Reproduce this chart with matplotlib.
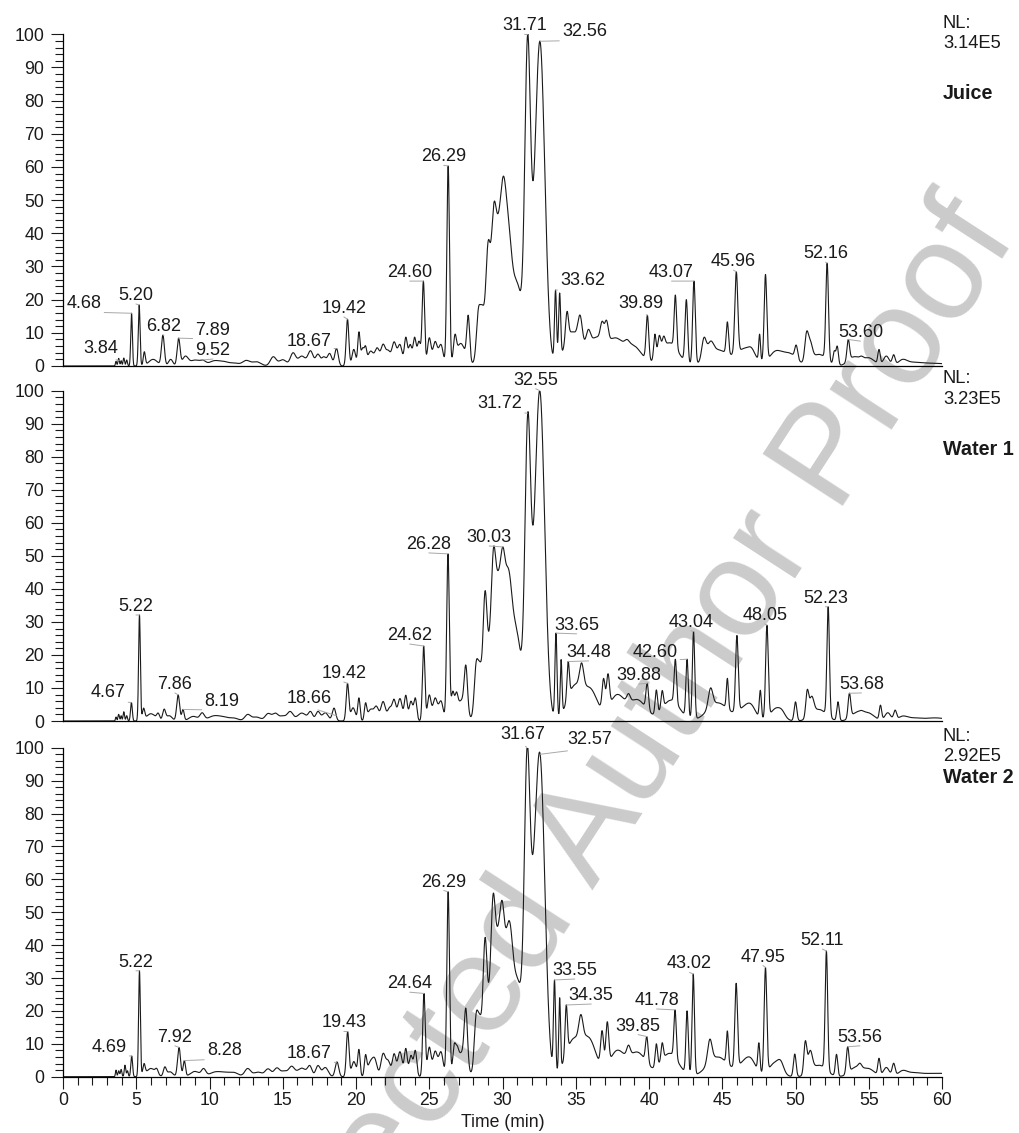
import numpy as np
import matplotlib
matplotlib.use('Agg')
import matplotlib.pyplot as plt
from matplotlib.ticker import MultipleLocator

plt.rcParams['font.family'] = ['Liberation Sans', 'DejaVu Sans']

# peak tables:
# retention time (min), relative abundance at that time, peak width (sigma, min)
juice_rt = [3.62, 3.80, 3.97, 4.15, 4.35, 4.68, 5.20, 5.55, 6.15, 6.82,
            7.35, 7.89, 8.35, 9.0, 9.55, 10.3, 11.0, 11.75, 12.5, 13.2,
            14.35, 15.0, 15.7, 16.3, 16.9, 17.4, 17.8, 18.2, 18.67, 19.42,
            19.85, 20.2, 20.45, 20.65, 21.0, 21.45, 21.85, 22.2, 22.6, 23.0,
            23.4, 23.7, 24.0, 24.3, 24.60, 25.0, 25.4, 25.8, 26.29, 26.75,
            27.15, 27.66, 28.35, 28.6, 29.0, 29.4, 29.55, 29.7, 30.05, 30.4,
            31.05, 31.71, 31.96, 32.56, 33.62, 33.9, 34.4, 34.75, 35.3, 35.85,
            36.4, 36.8, 37.1, 37.7, 38.5, 38.9, 39.89, 40.4, 40.7, 41.0,
            41.4, 41.8, 42.55, 43.07, 43.75, 44.2, 44.7, 45.35, 45.96, 46.6,
            47.0, 47.55, 47.95, 48.6, 49.0, 49.55, 50.05, 50.75, 51.0, 51.6,
            52.16, 52.65, 52.85, 53.60, 54.0, 54.5, 55.0, 55.7, 56.2, 56.7,
            57.3, 58.0, 59.0, 60.0]
juice_ht = [1.4, 2.3, 1.6, 2.4, 1.8, 15.9, 18.4, 4.3, 2.0, 9.3,
            2.0, 8.4, 3.0, 1.8, 1.8, 1.6, 1.4, 0.9, 1.7, 1.3,
            2.8, 1.9, 4.0, 3.0, 4.6, 3.6, 2.8, 3.8, 5.3, 14.1,
            5.0, 10.3, 5.5, 6.1, 4.5, 5.5, 6.6, 4.8, 7.3, 6.5,
            8.7, 6.5, 8.7, 7.5, 25.6, 8.5, 7.4, 6.5, 60.3, 9.5,
            6.8, 15.3, 17.3, 18.5, 37.0, 48.8, 48.0, 46.0, 57.2, 45.0,
            24.7, 99.9, 65.4, 97.9, 22.9, 22.0, 16.4, 10.3, 15.3, 11.0,
            8.7, 13.5, 13.8, 8.5, 8.0, 6.4, 15.3, 9.6, 9.2, 9.0,
            7.0, 21.4, 20.0, 25.6, 8.6, 7.5, 5.0, 13.3, 28.4, 5.5,
            5.5, 9.6, 27.6, 4.5, 4.5, 4.0, 6.3, 10.3, 8.0, 3.5,
            31.0, 4.6, 6.0, 8.0, 2.8, 3.0, 2.5, 5.0, 3.0, 3.4,
            2.0, 1.2, 0.9, 0.7]
juice_wd = [0.04, 0.05, 0.04, 0.05, 0.05, 0.055, 0.06, 0.07, 0.3, 0.1,
            0.15, 0.1, 0.2, 0.3, 0.2, 0.35, 0.35, 0.3, 0.25, 0.3,
            0.2, 0.25, 0.18, 0.25, 0.18, 0.15, 0.15, 0.15, 0.12, 0.09,
            0.12, 0.08, 0.1, 0.08, 0.2, 0.15, 0.15, 0.15, 0.15, 0.15,
            0.1, 0.12, 0.1, 0.12, 0.085, 0.12, 0.15, 0.15, 0.09, 0.1,
            0.3, 0.1, 0.13, 0.13, 0.13, 0.12, 0.1, 0.6, 0.17, 0.25,
            0.3, 0.19, 0.3, 0.33, 0.07, 0.07, 0.1, 0.5, 0.15, 0.15,
            0.6, 0.12, 0.12, 0.5, 0.15, 0.6, 0.09, 0.08, 0.1, 0.1,
            0.6, 0.08, 0.09, 0.09, 0.15, 0.2, 0.7, 0.08, 0.1, 0.6,
            0.2, 0.06, 0.09, 0.4, 0.2, 0.5, 0.1, 0.12, 0.15, 0.5,
            0.09, 0.08, 0.08, 0.09, 0.4, 0.12, 0.4, 0.08, 0.2, 0.1,
            0.3, 0.5, 0.6, 0.6]

water1_rt = [3.62, 3.80, 3.97, 4.15, 4.35, 4.67, 5.22, 5.5, 6.0, 6.5,
             6.9, 7.25, 7.86, 8.19, 8.9, 9.5, 10.3, 11.0, 11.7, 12.6,
             13.2, 14.0, 14.5, 15.0, 15.5, 16.3, 16.9, 17.4, 17.9, 18.5,
             19.42, 19.8, 20.2, 20.65, 21.0, 21.4, 21.85, 22.3, 22.6, 23.0,
             23.4, 23.75, 24.05, 24.62, 25.0, 25.4, 25.8, 26.28, 26.6, 26.85,
             27.2, 27.5, 28.2, 28.45, 28.8, 29.38, 29.75, 30.03, 30.45, 31.0,
             31.72, 31.95, 32.55, 33.65, 34.0, 34.48, 34.9, 35.4, 36.0, 36.9,
             37.2, 37.8, 38.6, 39.2, 39.88, 40.5, 40.9, 41.5, 41.8, 42.60,
             43.04, 44.2, 44.7, 45.35, 46.0, 46.6, 47.0, 47.6, 48.05, 48.7,
             49.1, 50.0, 50.8, 51.1, 51.6, 52.23, 52.9, 53.68, 54.2, 54.5,
             55.0, 55.8, 56.3, 56.8, 57.3, 58.0, 59.2, 60.0]
water1_ht = [1.2, 2.0, 1.6, 2.8, 1.6, 5.6, 32.1, 3.9, 2.2, 2.4,
             3.6, 1.6, 7.9, 3.5, 1.4, 2.5, 1.6, 1.3, 0.9, 2.0,
             1.2, 2.3, 2.4, 1.6, 2.9, 2.4, 2.9, 2.9, 2.5, 3.9,
             11.4, 4.0, 7.0, 5.5, 3.6, 4.5, 5.9, 4.2, 6.6, 6.8,
             7.8, 6.0, 7.0, 22.7, 7.9, 7.0, 6.1, 50.6, 9.0, 8.8,
             6.5, 16.9, 17.9, 18.0, 39.2, 52.3, 46.0, 52.7, 45.4, 27.2,
             93.2, 68.5, 100.0, 26.6, 18.6, 18.0, 10.9, 17.6, 10.0, 12.9,
             14.3, 8.0, 8.3, 6.5, 11.4, 9.4, 9.2, 6.3, 18.7, 18.7,
             27.1, 10.0, 5.5, 12.9, 25.9, 5.0, 5.0, 9.3, 29.0, 4.0,
             3.3, 5.8, 9.5, 7.5, 3.5, 34.6, 5.8, 8.4, 2.8, 3.2,
             2.5, 4.8, 2.5, 3.3, 1.5, 1.0, 0.9, 0.8]
water1_wd = [0.04, 0.05, 0.04, 0.05, 0.05, 0.06, 0.06, 0.08, 0.3, 0.1,
             0.1, 0.2, 0.1, 0.08, 0.3, 0.15, 0.4, 0.35, 0.3, 0.2,
             0.3, 0.2, 0.2, 0.2, 0.2, 0.3, 0.15, 0.15, 0.2, 0.12,
             0.09, 0.15, 0.08, 0.08, 0.2, 0.15, 0.15, 0.15, 0.12, 0.15,
             0.1, 0.12, 0.1, 0.085, 0.12, 0.15, 0.15, 0.09, 0.1, 0.1,
             0.3, 0.11, 0.13, 0.13, 0.13, 0.13, 0.6, 0.14, 0.22, 0.3,
             0.19, 0.3, 0.33, 0.07, 0.06, 0.08, 0.5, 0.14, 0.5, 0.1,
             0.1, 0.5, 0.12, 0.6, 0.09, 0.08, 0.08, 0.6, 0.08, 0.08,
             0.08, 0.15, 0.7, 0.07, 0.09, 0.5, 0.3, 0.07, 0.09, 0.4,
             0.2, 0.09, 0.1, 0.15, 0.5, 0.085, 0.08, 0.09, 0.4, 0.12,
             0.4, 0.08, 0.2, 0.1, 0.3, 0.5, 0.6, 0.6]

water2_rt = [3.62, 3.80, 3.97, 4.23, 4.4, 4.69, 5.22, 5.53, 6.0, 6.4,
             6.95, 7.3, 7.92, 8.28, 9.0, 9.6, 10.4, 11.1, 11.7, 12.6,
             13.3, 14.0, 14.6, 15.1, 15.6, 16.3, 16.85, 17.4, 17.9, 18.7,
             19.43, 19.85, 20.2, 20.65, 21.0, 21.3, 21.85, 22.2, 22.6, 23.0,
             23.4, 23.75, 24.05, 24.64, 25.0, 25.4, 25.8, 26.29, 26.7, 26.9,
             27.2, 27.5, 28.2, 28.45, 28.8, 29.35, 29.74, 29.98, 30.5, 31.07,
             31.67, 31.99, 32.57, 33.55, 33.9, 34.35, 34.8, 35.35, 35.9, 36.8,
             37.15, 37.8, 38.6, 39.2, 39.85, 40.5, 40.9, 41.4, 41.78, 42.6,
             43.02, 44.15, 44.7, 45.35, 45.95, 46.65, 47.0, 47.5, 47.95, 48.6,
             49.0, 49.95, 50.67, 51.0, 51.6, 52.11, 52.8, 53.56, 54.1, 54.4,
             55.0, 55.7, 56.2, 56.7, 57.3, 58.0, 59.0, 60.0]
water2_ht = [2.0, 1.8, 2.2, 3.5, 1.8, 6.3, 32.2, 4.0, 2.5, 2.5,
             3.0, 1.5, 8.9, 4.9, 1.6, 2.5, 1.5, 1.4, 1.3, 2.5,
             1.4, 2.4, 2.7, 1.8, 3.2, 2.6, 3.4, 3.4, 2.8, 4.5,
             13.7, 4.6, 8.3, 6.7, 5.0, 5.5, 7.1, 5.0, 7.0, 7.6,
             8.6, 6.5, 8.0, 25.3, 9.0, 7.8, 7.6, 56.2, 9.9, 9.5,
             7.6, 20.8, 19.3, 19.0, 42.1, 55.2, 47.0, 53.5, 47.0, 29.4,
             100.0, 69.4, 98.0, 29.4, 24.0, 21.8, 11.5, 18.9, 12.0, 14.0,
             16.7, 8.0, 9.6, 7.5, 12.2, 10.0, 10.3, 7.1, 20.3, 20.0,
             31.2, 11.4, 6.0, 13.9, 28.4, 5.8, 5.5, 10.3, 33.2, 4.5,
             4.9, 6.9, 10.9, 8.0, 3.5, 38.2, 6.8, 9.1, 3.0, 4.1,
             2.5, 5.6, 2.8, 4.1, 1.9, 1.3, 1.0, 1.0]
water2_wd = [0.04, 0.05, 0.05, 0.05, 0.05, 0.06, 0.06, 0.08, 0.3, 0.1,
             0.1, 0.2, 0.1, 0.08, 0.3, 0.15, 0.4, 0.35, 0.3, 0.2,
             0.3, 0.2, 0.2, 0.2, 0.2, 0.3, 0.15, 0.15, 0.2, 0.12,
             0.09, 0.15, 0.08, 0.08, 0.2, 0.15, 0.15, 0.15, 0.12, 0.15,
             0.1, 0.12, 0.1, 0.085, 0.12, 0.15, 0.15, 0.09, 0.1, 0.1,
             0.3, 0.11, 0.13, 0.13, 0.13, 0.13, 0.6, 0.14, 0.22, 0.3,
             0.19, 0.3, 0.33, 0.07, 0.06, 0.08, 0.5, 0.14, 0.5, 0.1,
             0.1, 0.5, 0.12, 0.6, 0.09, 0.08, 0.08, 0.6, 0.08, 0.08,
             0.08, 0.15, 0.7, 0.07, 0.09, 0.5, 0.3, 0.07, 0.09, 0.4,
             0.2, 0.09, 0.1, 0.15, 0.5, 0.085, 0.08, 0.09, 0.4, 0.12,
             0.4, 0.08, 0.2, 0.1, 0.3, 0.5, 0.6, 0.6]

# labelled peaks
juice_labels = ['3.84', '4.68', '5.20', '6.82', '7.89', '9.52', '18.67', '19.42', '24.60', '26.29',
                '31.71', '32.56', '33.62', '39.89', '43.07', '45.96', '52.16', '53.60']
water1_labels = ['4.67', '5.22', '7.86', '8.19', '18.66', '19.42', '24.62', '26.28', '30.03', '31.72',
                 '32.55', '33.65', '34.48', '39.88', '42.60', '43.04', '48.05', '52.23', '53.68']
water2_labels = ['4.69', '5.22', '7.92', '8.28', '18.67', '19.43', '24.64', '26.29', '31.67', '32.57',
                 '33.55', '34.35', '39.85', '41.78', '43.02', '47.95', '52.11', '53.56']

nl_values = ['3.14E5', '3.23E5', '2.92E5']
samples = ['Juice', 'Water 1', 'Water 2']

# where each peak label sits (time, abundance) - layout only
juice_label_pos = [(2.59, 3.9), (1.43, 17.5), (4.98, 19.9), (6.89, 10.5), (10.23, 9.3), (10.23, 3.3),
                   (16.78, 6.0), (19.17, 16.0), (23.67, 26.8), (25.99, 61.7), (31.51, 101.2),
                   (35.6, 99.4), (35.47, 24.4), (39.43, 17.5), (41.54, 26.8), (45.77, 30.1),
                   (52.05, 32.5), (54.43, 8.7)]
water1_label_pos = [(3.07, 7.3), (4.98, 33.3), (7.64, 9.7), (10.85, 4.5), (16.8, 5.4), (19.17, 13.0),
                    (23.67, 24.5), (24.97, 52.1), (29.09, 54.2), (29.81, 94.8), (32.27, 101.8),
                    (35.06, 27.6), (35.88, 19.4), (39.3, 12.4), (40.4, 19.4), (42.86, 28.5),
                    (47.9, 30.6), (52.05, 35.8), (54.5, 9.7)]
water2_label_pos = [(3.14, 7.6), (4.98, 33.4), (7.64, 10.6), (11.02, 6.6), (16.8, 5.6), (19.17, 15.0),
                    (23.67, 26.9), (25.99, 57.8), (31.38, 102.5), (35.95, 101.1), (34.93, 30.9),
                    (36.06, 23.3), (39.26, 14.0), (40.52, 21.8), (42.77, 32.9), (47.78, 35.0),
                    (51.84, 40.0), (54.4, 10.6)]


def chromatogram(rt, ht, wd, t):
    rt = np.array(rt); ht = np.array(ht); wd = np.array(wd)
    assert len(rt) == len(ht) == len(wd)
    G = np.exp(-0.5 * ((rt[:, None] - rt[None, :]) / wd[None, :]) ** 2)
    # peak amplitudes so the summed trace goes through the read values (no negative peaks)
    active = np.ones(len(rt), bool)
    amp = np.zeros(len(rt))
    for _ in range(60):
        a = np.linalg.lstsq(G[np.ix_(active, active)], ht[active], rcond=None)[0]
        idx = np.where(active)[0]
        if (a >= 0).all():
            amp[:] = 0
            amp[idx] = a
            break
        active[idx[a < 0]] = False
    shapes = np.exp(-0.5 * ((t[:, None] - rt[None, :]) / wd[None, :]) ** 2)
    return shapes @ amp


t = np.linspace(0, 60, 12001)
traces = [chromatogram(juice_rt, juice_ht, juice_wd, t),
          chromatogram(water1_rt, water1_ht, water1_wd, t),
          chromatogram(water2_rt, water2_ht, water2_wd, t)]
labels = [juice_labels, water1_labels, water2_labels]
label_pos = [juice_label_pos, water1_label_pos, water2_label_pos]

W, H = 1020, 1133
fig = plt.figure(figsize=(W / 100, H / 100), dpi=100)
ink = '#1a1a1a'

# proof watermark, behind the plots
fig.text(1018 / W, 1 - 236 / H, 'Corrected Author Proof', fontsize=100, color='#cbcbcb',
         rotation=57, rotation_mode='anchor', ha='right', va='baseline', zorder=0)

# panel frames in pixels: (y of 0, y of 100)
frames = [(366, 34.3), (721, 390.7), (1076.7, 747.7)]
left, right = 63, 942
for i, (y0, y100) in enumerate(frames):
    ax = fig.add_axes([left / W, 1 - y0 / H, (right - left) / W, (y0 - y100) / H])
    ax.set_zorder(2)
    ax.set_facecolor('none')
    ax.plot(t, traces[i], color=ink, lw=0.8)
    ax.set_xlim(0, 60)
    ax.set_ylim(0, 100)
    for s in ['top', 'right']:
        ax.spines[s].set_visible(False)
    ax.spines['left'].set_linewidth(0.9)
    ax.spines['bottom'].set_linewidth(0.9)
    ax.yaxis.set_major_locator(MultipleLocator(10))
    ax.yaxis.set_minor_locator(MultipleLocator(2))
    ax.tick_params(axis='y', which='major', length=8.6, width=0.8, pad=5.0, labelsize=12.7, colors=ink)
    ax.tick_params(axis='y', which='minor', length=5.5, width=0.8, colors=ink)
    if i < 2:
        ax.tick_params(axis='x', which='both', bottom=False, labelbottom=False)
    else:
        ax.xaxis.set_major_locator(MultipleLocator(5))
        ax.xaxis.set_minor_locator(MultipleLocator(1))
        ax.tick_params(axis='x', which='major', length=8.6, width=0.8, pad=2.5, labelsize=12.7, colors=ink)
        ax.tick_params(axis='x', which='minor', length=5.5, width=0.8, colors=ink)

    for lab, (lx, ly) in zip(labels[i], label_pos[i]):
        rtv = float(lab)
        yv = np.interp(rtv, t, traces[i])
        ax.annotate(lab, xy=(rtv, yv), xytext=(lx, ly), ha='center', va='baseline',
                    fontsize=13, color=ink, annotation_clip=False,
                    arrowprops=dict(arrowstyle='-', color='#a8a8a8', lw=0.7,
                                    shrinkA=0, shrinkB=0, relpos=(0.5, 0.0)))

# NL values and sample names on the right
nl_y = [(28, 48, 99), (383, 404, 455), (741, 761, 783)]
for i, (a, b, c) in enumerate(nl_y):
    fig.text(943 / W, 1 - a / H, 'NL:', fontsize=13.2, color=ink, va='baseline')
    fig.text(943 / W, 1 - b / H, nl_values[i], fontsize=13.2, color=ink, va='baseline')
    fig.text(943 / W, 1 - c / H, samples[i], fontsize=14.2, color=ink, va='baseline', fontweight='bold')

fig.text(503 / W, 1 - 1127 / H, 'Time (min)', fontsize=12.7, color=ink, ha='center', va='baseline')

fig.savefig('out.png', dpi=100)
